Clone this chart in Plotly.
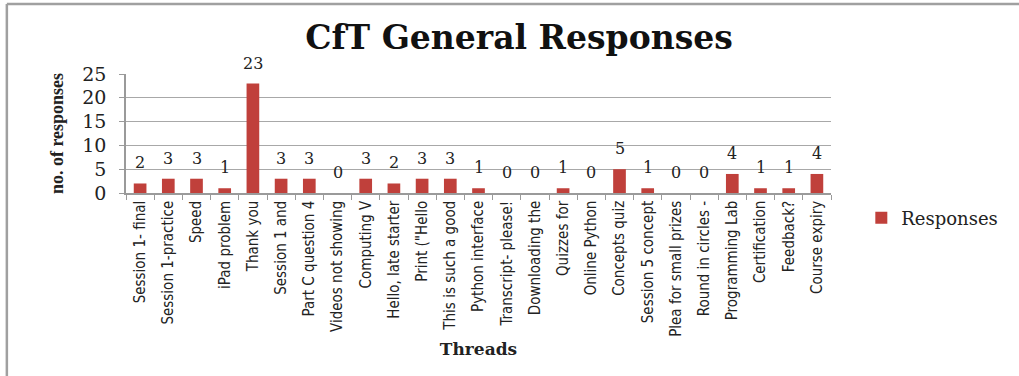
import plotly.graph_objects as go

threads = [
    "Session 1- final", "Session 1-practice", "Speed", "iPad problem", "Thank you",
    "Session 1 and", "Part C question 4", "Videos not showing", "Computing V",
    "Hello, late starter", "Print (\"Hello", "This is such a good", "Python interface",
    "Transcript- please!", "Downloading the", "Quizzes for", "Online Python",
    "Concepts quiz", "Session 5 concept", "Plea for small prizes", "Round in circles -",
    "Programming Lab", "Certification", "Feedback?", "Course expiry",
]
responses = [2, 3, 3, 1, 23, 3, 3, 0, 3, 2, 3, 3, 1, 0, 0, 1, 0, 5, 1, 0, 0, 4, 1, 1, 4]
y_ticks = [0, 5, 10, 15, 20, 25]

wide_serif = "DejaVu Serif"
narrow = "DejaVu Sans Condensed"
narrow_serif = "Liberation Serif"

fig = go.Figure()
fig.add_trace(go.Bar(
    x=threads,
    y=responses,
    name="Responses",
    width=0.45,
    marker=dict(color="#C0403B", line=dict(width=0)),
))

# value labels sitting above each bar
for cat, val in zip(threads, responses):
    fig.add_annotation(
        x=cat, y=val, text=str(val), showarrow=False,
        yanchor="bottom", yshift=9,
        font=dict(family=wide_serif, size=16, color="#222222"),
    )

fig.update_layout(
    width=1019,
    height=376,
    margin=dict(l=126, r=188, t=74, b=183),
    paper_bgcolor="white",
    plot_bgcolor="white",
    showlegend=True,
    legend=dict(
        x=1.043, y=-0.21, xanchor="left", yanchor="middle",
        font=dict(family=wide_serif, size=18, color="#222222"),
        itemwidth=30,
    ),
    title=dict(
        text="<b>CfT General Responses</b>",
        x=(519 - 126) / 705, xref="paper", xanchor="center",
        y=0.9, yref="container", yanchor="middle",
        font=dict(family=wide_serif, size=33, color="#111111"),
    ),
)

fig.update_xaxes(
    type="category",
    tickangle=-90,
    tickfont=dict(family=narrow, size=15, color="#222222"),
    showline=True, linecolor="#9A9A9A", linewidth=1.5,
    ticks="outside", tickson="boundaries", ticklen=5, tickcolor="#9A9A9A",
    showgrid=False,
    title=dict(text="<b>Threads</b>", font=dict(family=wide_serif, size=17, color="#222222"), standoff=7),
)

fig.update_yaxes(
    range=[0, 25],
    tickvals=y_ticks,
    tickfont=dict(family=wide_serif, size=19, color="#222222"),
    ticklabelstandoff=9,
    showline=True, linecolor="#9A9A9A", linewidth=1.5,
    ticks="outside", ticklen=5, tickcolor="#9A9A9A",
    showgrid=True, gridcolor="#A8A8A8", gridwidth=1.2,
    zeroline=False,
    title=dict(text="<b>no. of responses</b>", font=dict(family=narrow_serif, size=18, color="#222222"), standoff=14),
)

# outer frame (left and top edges)
fig.add_shape(type="line", xref="paper", yref="paper", x0=-0.169, x1=1.3, y0=1.588, y1=1.588,
              line=dict(color="#A0A0A0", width=2.5))
fig.add_shape(type="line", xref="paper", yref="paper", x0=-0.169, x1=-0.169, y0=1.588, y1=-1.6,
              line=dict(color="#A0A0A0", width=2.5))

fig.write_html("out.html")
